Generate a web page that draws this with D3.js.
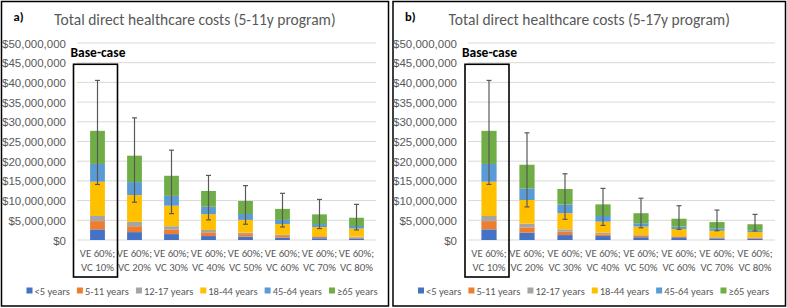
<!DOCTYPE html>
<html><head><meta charset="utf-8">
<script src="https://cdn.jsdelivr.net/npm/d3@7"></script>
<style>
body{margin:0;background:#fff;}
svg{display:block;font-family:Carlito,Lato,"Open Sans",sans-serif;}
</style></head><body>
<svg id="chart" width="787" height="308"></svg>
<script>
// ---------- data ----------
const catLine1 = ["VE 60%;","VE 60%;","VE 60%;","VE 60%;","VE 60%;","VE 60%;","VE 60%;","VE 60%;"];
const catLine2 = ["VC 10%","VC 20%","VC 30%","VC 40%","VC 50%","VC 60%","VC 70%","VC 80%"];
const ageGroups = ["<5 years","5-11 years","12-17 years","18-44 years","45-64 years","\u226565 years"];
const yTicks = [0,5e6,10e6,15e6,20e6,25e6,30e6,35e6,40e6,45e6,50e6];

// Panel a) 5-11y program (millions $)
const a_under5 = [2.7, 2.0, 1.5, 1.0, 0.85, 0.6, 0.45, 0.4];
const a_5to11  = [2.1, 1.5, 1.1, 0.95, 0.65, 0.4, 0.35, 0.25];
const a_12to17 = [1.3, 1.1, 0.9, 0.6, 0.35, 0.3, 0.2, 0.2];
const a_18to44 = [8.7, 6.8, 5.2, 4.0, 3.25, 2.75, 2.3, 2.05];
const a_45to64 = [4.5, 3.3, 2.5, 1.9, 1.5, 1.05, 0.75, 0.65];
const a_65plus = [8.4, 6.7, 5.1, 4.0, 3.3, 2.8, 2.45, 2.1];
const a_errLow  = [14.1, 9.6, 6.7, 5.1, 4.0, 3.3, 2.9, 2.55];
const a_errHigh = [40.5, 31.0, 22.8, 16.4, 13.8, 11.85, 10.3, 9.05];

// Panel b) 5-17y program (millions $)
const b_under5 = [2.7, 1.85, 1.25, 1.0, 0.7, 0.5, 0.4, 0.35];
const b_5to11  = [2.1, 1.35, 0.85, 0.45, 0.35, 0.3, 0.2, 0.2];
const b_12to17 = [1.3, 0.95, 0.6, 0.4, 0.2, 0.2, 0.15, 0.15];
const b_18to44 = [8.7, 6.0, 4.1, 2.8, 2.15, 1.8, 1.6, 1.3];
const b_45to64 = [4.5, 2.95, 2.2, 1.45, 0.85, 0.6, 0.6, 0.35];
const b_65plus = [8.4, 6.0, 3.95, 2.95, 2.55, 2.0, 1.6, 1.65];
const b_errLow  = [14.1, 8.4, 5.25, 3.7, 3.1, 2.7, 2.35, 2.3];
const b_errHigh = [40.5, 27.2, 16.8, 13.1, 10.6, 8.7, 7.6, 6.5];

const colors = ["#4472C4","#ED7D31","#A5A5A5","#FFC000","#5B9BD5","#70AD47"];

const svg = d3.select("#chart");
const fmt = d => "$" + d3.format(",")(d);

function drawPanel(cfg){
  const g = svg.append("g");
  // border
  g.append("rect").attr("x",cfg.left).attr("y",1.5).attr("width",cfg.width).attr("height",304.5)
    .attr("fill","none").attr("stroke","#000").attr("stroke-width",1.5);
  const x = d3.scaleBand().domain(d3.range(8)).range([cfg.x0,cfg.x1]).paddingInner(0.6).paddingOuter(0.3);
  const y = d3.scaleLinear().domain([0,50e6]).range([240,43]);
  // gridlines
  g.selectAll(".grid").data(yTicks).join("line")
    .attr("x1",cfg.x0-2).attr("x2",cfg.x1+1).attr("y1",d=>y(d)).attr("y2",d=>y(d))
    .attr("stroke","#d9d9d9").attr("stroke-width",1);
  // y labels
  const ya = d3.axisLeft(y).tickValues(yTicks).tickFormat(fmt).tickSize(0).tickPadding(0);
  const yg = g.append("g").attr("transform",`translate(${cfg.x0-13},0)`).call(ya);
  yg.select(".domain").remove();
  yg.selectAll("text").attr("fill","#595959").style("font-size","11.5px").attr("dy","0.35em");
  // stacked bars
  const rows = d3.range(8).map(i => {
    const r = {i};
    cfg.series.forEach((s,k)=> r[k] = s[i]*1e6);
    return r;
  });
  const stack = d3.stack().keys(d3.range(6))(rows);
  stack.forEach((layer,k)=>{
    g.append("g").selectAll("rect").data(layer).join("rect")
      .attr("x",d=>x(d.data.i)).attr("width",x.bandwidth())
      .attr("y",d=>y(d[1])).attr("height",d=>y(d[0])-y(d[1]))
      .attr("fill",colors[k]);
  });
  // error bars
  const eg = g.append("g").attr("stroke","#595959").attr("stroke-width",1.2);
  d3.range(8).forEach(i=>{
    const cx = x(i)+x.bandwidth()/2;
    eg.append("line").attr("x1",cx).attr("x2",cx).attr("y1",y(cfg.errLow[i]*1e6)).attr("y2",y(cfg.errHigh[i]*1e6));
    eg.append("line").attr("x1",cx-2.5).attr("x2",cx+2.5).attr("y1",y(cfg.errLow[i]*1e6)).attr("y2",y(cfg.errLow[i]*1e6));
    eg.append("line").attr("x1",cx-2.5).attr("x2",cx+2.5).attr("y1",y(cfg.errHigh[i]*1e6)).attr("y2",y(cfg.errHigh[i]*1e6));
  });
  // category labels
  const xg = g.append("g");
  d3.range(8).forEach(i=>{
    const cx = x(i)+x.bandwidth()/2;
    xg.append("text").attr("x",cx).attr("y",257).attr("text-anchor","middle").attr("fill","#595959")
      .style("font-size","10.8px").text(catLine1[i]);
    xg.append("text").attr("x",cx).attr("y",271).attr("text-anchor","middle").attr("fill","#595959")
      .style("font-size","10.8px").text(catLine2[i]);
  });
  // base-case box
  const c0 = x(0)+x.bandwidth()/2;
  g.append("rect").attr("x",c0-24).attr("y",y(44.6e6)).attr("width",44).attr("height",277-y(44.6e6))
    .attr("fill","none").attr("stroke","#000").attr("stroke-width",1.6);
  g.append("text").attr("x",c0-27).attr("y",57).attr("fill","#000").style("font-size","13.5px")
    .style("font-weight","bold").text("Base-case");
  // title
  g.append("text").attr("x",cfg.left+cfg.width/2).attr("y",25).attr("text-anchor","middle")
    .attr("fill","#595959").style("font-size","15.5px").text(cfg.title);
  g.append("text").attr("x",cfg.left+12).attr("y",21).attr("fill","#000").style("font-size","12.5px")
    .style("font-weight","bold").text(cfg.tag);
  // legend
  const lg = g.append("g");
  let lx = cfg.left+25;
  ageGroups.forEach((name,k)=>{
    lg.append("rect").attr("x",lx).attr("y",287.5).attr("width",6).attr("height",6).attr("fill",colors[k]);
    const t = lg.append("text").attr("x",lx+8).attr("y",291).attr("dy","0.35em").attr("fill","#595959")
      .style("font-size","10.5px").text(name);
    lx += 8 + t.node().getComputedTextLength() + 7;
  });
}

drawPanel({left:1.5, width:387, x0:79, x1:375, tag:"a)", title:"Total direct healthcare costs (5-11y program)",
  series:[a_under5,a_5to11,a_12to17,a_18to44,a_45to64,a_65plus], errLow:a_errLow, errHigh:a_errHigh});
drawPanel({left:393, width:392.5, x0:470, x1:774, tag:"b)", title:"Total direct healthcare costs (5-17y program)",
  series:[b_under5,b_5to11,b_12to17,b_18to44,b_45to64,b_65plus], errLow:b_errLow, errHigh:b_errHigh});
</script></body></html>
